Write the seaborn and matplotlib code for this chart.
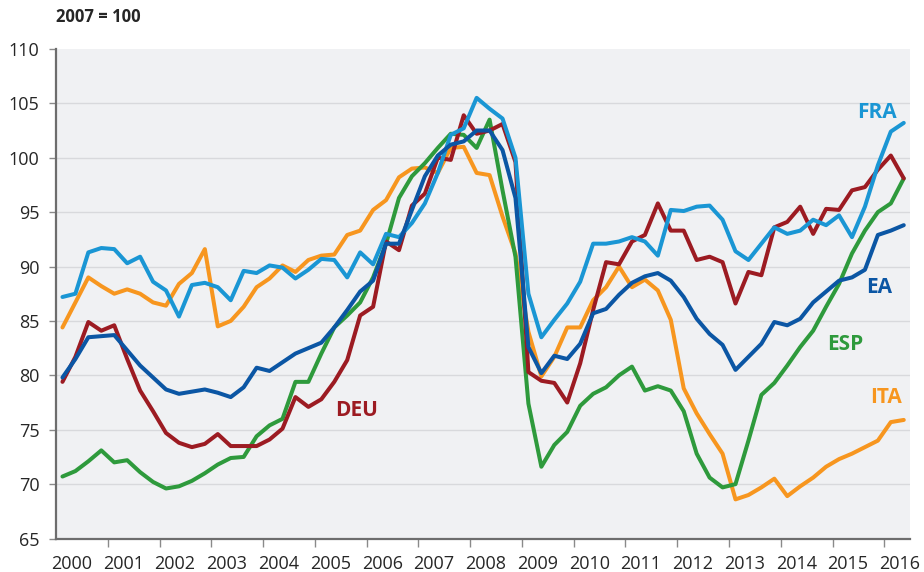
import numpy as np
import pandas as pd
import matplotlib
matplotlib.use("Agg")
import matplotlib.pyplot as plt
import seaborn as sns

# quarterly index, 2007 = 100
periods = pd.period_range("2000Q1", "2016Q2", freq="Q")

fra = [87.2, 87.5, 91.3, 91.7, 91.6, 90.3, 90.9, 88.6, 87.8, 85.4, 88.3, 88.5,
       88.1, 86.9, 89.6, 89.4, 90.1, 89.9, 88.9, 89.7, 90.7, 90.6, 89.0, 91.3,
       90.2, 93.0, 92.7, 94.0, 95.8, 98.6, 102.1, 102.7, 105.5, 104.5, 103.6, 100.0,
       87.5, 83.5, 85.1, 86.6, 88.6, 92.1, 92.1, 92.3, 92.7, 92.3, 91.0, 95.2,
       95.1, 95.5, 95.6, 94.3, 91.4, 90.6, 92.1, 93.6, 93.0, 93.3, 94.3, 93.8,
       94.7, 92.7, 95.5, 99.3, 102.4, 103.2]
ea = [79.8, 81.5, 83.5, 83.6, 83.7, 82.3, 80.9, 79.8, 78.7, 78.3, 78.5, 78.7,
      78.4, 78.0, 78.9, 80.7, 80.4, 81.2, 82.0, 82.5, 83.0, 84.4, 86.0, 87.7,
      88.7, 92.1, 92.1, 95.2, 98.3, 100.2, 101.2, 101.5, 102.5, 102.5, 100.7, 96.3,
      82.6, 80.2, 81.8, 81.5, 82.9, 85.7, 86.1, 87.4, 88.5, 89.1, 89.4, 88.7,
      87.2, 85.2, 83.8, 82.8, 80.5, 81.7, 82.9, 84.9, 84.6, 85.2, 86.7, 87.7,
      88.7, 89.0, 89.7, 92.9, 93.3, 93.8]
deu = [79.4, 81.7, 84.9, 84.1, 84.6, 81.5, 78.6, 76.7, 74.7, 73.8, 73.4, 73.7,
       74.6, 73.5, 73.5, 73.5, 74.1, 75.1, 78.0, 77.1, 77.8, 79.4, 81.4, 85.5,
       86.3, 92.3, 91.5, 95.6, 96.7, 100.0, 99.8, 103.9, 102.2, 102.5, 103.1, 99.6,
       80.3, 79.5, 79.3, 77.5, 81.1, 86.0, 90.4, 90.2, 92.3, 92.9, 95.8, 93.3,
       93.3, 90.6, 90.9, 90.4, 86.6, 89.5, 89.2, 93.6, 94.1, 95.5, 93.0, 95.3,
       95.2, 97.0, 97.3, 98.9, 100.2, 98.1]
esp = [70.7, 71.2, 72.1, 73.1, 72.0, 72.2, 71.1, 70.2, 69.6, 69.8, 70.3, 71.0,
       71.8, 72.4, 72.5, 74.4, 75.4, 76.0, 79.4, 79.4, 82.0, 84.4, 85.5, 86.7,
       89.0, 92.1, 96.3, 98.3, 99.5, 100.9, 102.2, 102.1, 100.9, 103.5, 97.0, 90.9,
       77.4, 71.6, 73.6, 74.8, 77.2, 78.3, 78.9, 80.0, 80.8, 78.6, 79.0, 78.6,
       76.7, 72.8, 70.6, 69.7, 70.0, 74.0, 78.2, 79.3, 80.9, 82.6, 84.1, 86.3,
       88.4, 91.2, 93.3, 95.0, 95.8, 98.1]
ita = [84.4, 86.7, 89.0, 88.2, 87.5, 87.9, 87.5, 86.7, 86.4, 88.4, 89.4, 91.6,
       84.5, 85.0, 86.3, 88.1, 88.9, 90.1, 89.5, 90.6, 91.0, 91.1, 92.9, 93.3,
       95.2, 96.1, 98.2, 99.0, 99.1, 98.6, 100.9, 101.0, 98.6, 98.4, 94.6, 91.2,
       84.0, 79.9, 81.7, 84.4, 84.4, 86.9, 88.1, 90.0, 88.1, 88.8, 87.8, 85.1,
       78.8, 76.5, 74.6, 72.8, 68.6, 69.0, 69.7, 70.5, 68.9, 69.8, 70.6, 71.6,
       72.3, 72.8, 73.4, 74.0, 75.7, 75.9]

countries = ["ITA", "ESP", "DEU", "FRA", "EA"]
colors = {"FRA": "#1a96d4", "EA": "#0b56a4", "DEU": "#9c1b22",
          "ESP": "#2e9a3c", "ITA": "#f7961f"}
# label positions (decimal year, index value)
label_pos = {"FRA": (2015.85, 104.2), "EA": (2015.9, 88.1), "ESP": (2015.25, 82.8),
             "ITA": (2016.03, 78.0), "DEU": (2005.8, 76.8)}

x = periods.year + (periods.quarter - 0.5) / 4
series = {"FRA": fra, "EA": ea, "DEU": deu, "ESP": esp, "ITA": ita}
df = pd.concat([pd.DataFrame({"date": x, "value": series[c], "country": c})
                for c in countries], ignore_index=True)

sns.set_style("white")
plt.rcParams["font.family"] = ["Open Sans", "DejaVu Sans"]

fig = plt.figure(figsize=(9.24, 5.72), dpi=100)
ax = fig.add_axes([0.0606, 0.0585, 0.9245, 0.856])
ax.set_facecolor("#f0f1f3")

sns.lineplot(data=df, x="date", y="value", hue="country", hue_order=countries,
             palette=colors, linewidth=2.9, legend=False, ax=ax)

ax.set_xlim(2000, 2016.5)
ax.set_ylim(65, 110)
yticks = np.arange(65, 111, 5)
ax.set_yticks(yticks)
for v in yticks[1:-1]:
    ax.axhline(v, color="#d8d9dc", linewidth=1.0, zorder=0)

years = np.arange(2000, 2017)
ax.set_xticks(years[1:])
ax.set_xticklabels([])
ax.set_xticks(years + 0.3, minor=True)
ax.set_xticklabels([str(y) for y in years], minor=True)
ax.tick_params(axis="x", which="major", direction="out", length=6, width=1,
               color="#8a8a8a", bottom=True)
ax.tick_params(axis="x", which="minor", length=0, pad=12, labelsize=13)
ax.tick_params(axis="y", direction="out", length=5, width=1, color="#8a8a8a",
               left=True, pad=7, labelsize=13)
ax.set_xlabel("")
ax.set_ylabel("")

for side in ["top", "right"]:
    ax.spines[side].set_visible(False)
for side in ["left", "bottom"]:
    ax.spines[side].set_color("#6d6d6d")
    ax.spines[side].set_linewidth(1.6)

for c, (lx, ly) in label_pos.items():
    ax.text(lx, ly, c, color=colors[c], fontsize=15, fontweight="bold",
            ha="center", va="center")

fig.text(0.0606, 1 - 17 / 572, "2007 = 100", fontsize=12, fontweight="bold",
         ha="left", va="center")

fig.savefig("out.png", dpi=100)
